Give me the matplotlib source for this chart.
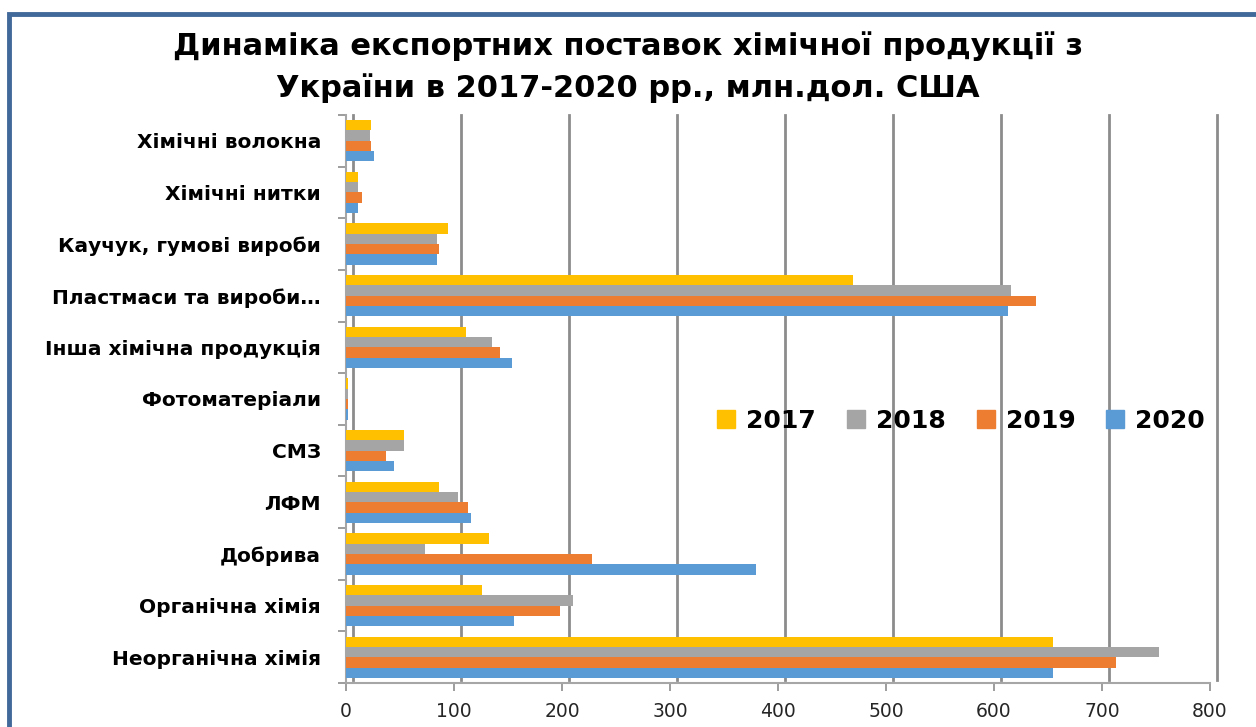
import matplotlib
matplotlib.use("Agg")
import matplotlib.pyplot as plt
import numpy as np
from matplotlib.transforms import ScaledTranslation
from matplotlib.patches import Rectangle
from matplotlib.lines import Line2D

categories = ["Неорганічна хімія", "Органічна хімія", "Добрива", "ЛФМ", "СМЗ",
              "Фотоматеріали", "Інша хімічна продукція", "Пластмаси та вироби…",
              "Каучук, гумові вироби", "Хімічні нитки", "Хімічні волокна"]
years = ["2017", "2018", "2019", "2020"]
v2017 = [655, 126, 132, 86, 54, 2, 111, 469, 94, 11, 23]
v2018 = [753, 210, 73, 104, 54, 2, 135, 616, 84, 11, 22]
v2019 = [713, 198, 228, 113, 37, 2, 143, 639, 86, 15, 23]
v2020 = [655, 156, 380, 116, 44, 2, 154, 613, 84, 11, 26]
xticks = [0, 100, 200, 300, 400, 500, 600, 700, 800]

colors = ["#FFC000", "#A5A5A5", "#ED7D31", "#5B9BD5"]

fig = plt.figure(figsize=(12.56, 7.27), dpi=100)
ax = fig.add_axes([346/1256, 1-683/727, (1210-346)/1256, (683-115)/727])

y = np.arange(len(categories))
h = 0.2
series = [v2017, v2018, v2019, v2020]
offsets = [1.5*h, 0.5*h, -0.5*h, -1.5*h]
handles = []
for vals, off, c, yr in zip(series, offsets, colors, years):
    ax.barh(y + off, vals, height=h, color=c, edgecolor="none", zorder=3)
    handles.append(Line2D([], [], marker='s', linestyle='none', markersize=13,
                          markerfacecolor=c, markeredgecolor=c, label=yr))

ax.set_xlim(0, 800)
ax.set_ylim(-0.5, len(categories) - 0.5)

# back-wall gridlines (slightly offset to mimic 3D wall)
shift = ScaledTranslation(7/100, 3/100, fig.dpi_scale_trans)
for xv in xticks:
    ax.plot([xv, xv], [0, 0.995], transform=ax.get_xaxis_transform() + shift,
            color="#8C8C8C", linewidth=2.0, zorder=1, clip_on=False)

ax.set_xticks(xticks)
ax.set_xticklabels([str(v) for v in xticks], fontsize=13.5, color="#262626")
ax.set_yticks(y)
ax.set_yticklabels(categories, fontsize=14.5, fontweight="bold")
ax.set_yticks(np.arange(-0.5, len(categories), 1), minor=True)
ax.tick_params(axis='y', which='major', length=0, pad=18)
ax.tick_params(axis='y', which='minor', length=6, color="#8C8C8C", width=1.2)
ax.tick_params(axis='x', length=6, color="#8C8C8C", width=1.2, pad=8)

for s in ["top", "right"]:
    ax.spines[s].set_visible(False)
for s in ["left", "bottom"]:
    ax.spines[s].set_color("#A6A6A6")
    ax.spines[s].set_linewidth(1.5)

ax.legend(handles=handles, loc="center", bbox_to_anchor=(0.71, 0.462), ncol=4,
          frameon=False, prop={"weight": "bold", "size": 18}, handletextpad=0.3,
          columnspacing=1.1, handlelength=1.0)

fig.text(0.5, 1-46/727, "Динаміка експортних поставок хімічної продукції з",
         ha="center", va="center", fontsize=22, fontweight="bold")
fig.text(0.5, 1-88/727, "України в 2017-2020 рр., млн.дол. США",
         ha="center", va="center", fontsize=22, fontweight="bold")

# outer frame (top & left visible)
fig.patches.append(Rectangle((9/1256, -0.05), 1.1, 1-14/727+0.05, transform=fig.transFigure,
                             fill=False, edgecolor="#41699A", linewidth=3.5))

fig.savefig("out.png", dpi=100)
